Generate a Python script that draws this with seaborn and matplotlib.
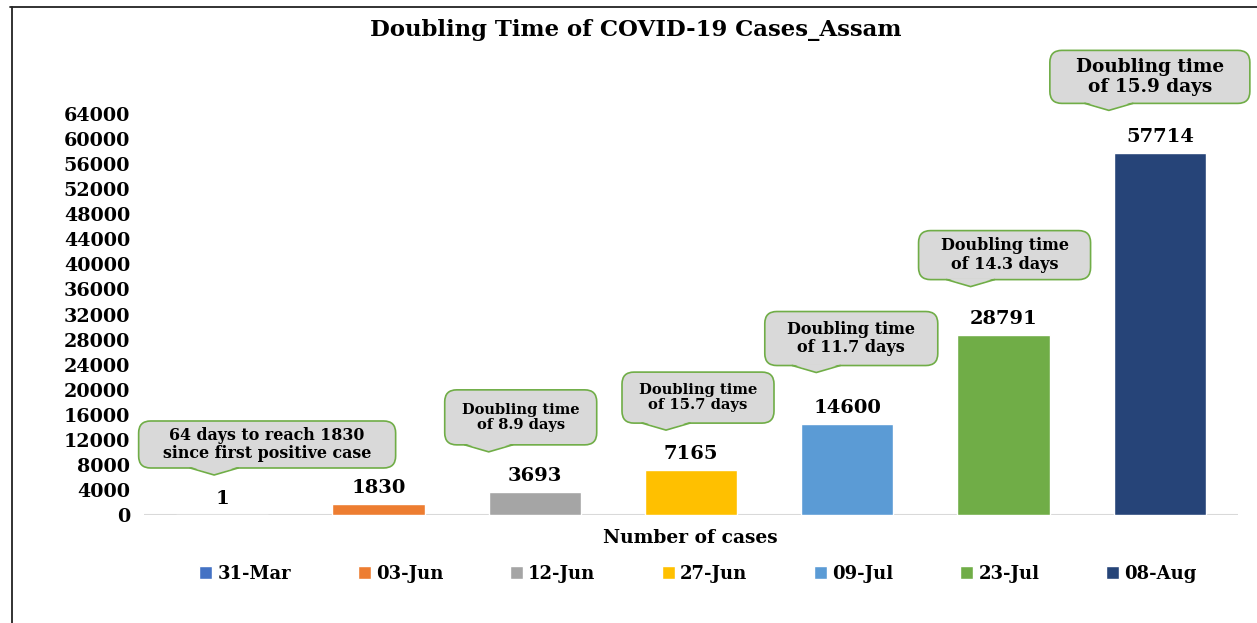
import numpy as np
import pandas as pd
import seaborn as sns
import matplotlib.pyplot as plt
from matplotlib.patches import FancyBboxPatch, Polygon
from matplotlib.lines import Line2D
from matplotlib.transforms import IdentityTransform

# data
dates = ["31-Mar", "03-Jun", "12-Jun", "27-Jun", "09-Jul", "23-Jul", "08-Aug"]
cases = [1, 1830, 3693, 7165, 14600, 28791, 57714]
colors = ["#4472c4", "#ed7d31", "#a5a5a5", "#ffc000", "#5b9bd5", "#70ad47", "#264478"]

callout_bars = [0, 2, 3, 4, 5, 6]
callout_texts = [
    "64 days to reach 1830\nsince first positive case",
    "Doubling time\nof 8.9 days",
    "Doubling time\nof 15.7 days",
    "Doubling time\nof 11.7 days",
    "Doubling time\nof 14.3 days",
    "Doubling time\nof 15.9 days",
]
# layout of callouts in pixels: tip offset from bar top, box size, box offset, font size
tip_dx = [-8, -46, -25, -31, -33, -51]
tip_dy = [40, 40, 40, 51, 48, 43]
box_w = [257, 152, 152, 173, 172, 200]
box_h = [47, 55, 51, 54, 49, 53]
box_dx = [53, 32, 32, 35, 34, 41]
box_fs = [11.4, 10.5, 10.6, 11.5, 11.5, 13.3]

FONT = "DejaVu Serif"

sns.set_style("white")
plt.rcParams["font.family"] = FONT
plt.rcParams["font.weight"] = "bold"
plt.rcParams["text.color"] = "black"
plt.rcParams["ytick.color"] = "black"
plt.rcParams["axes.labelcolor"] = "black"

fig = plt.figure(figsize=(12.57, 6.23), dpi=100)
ax = fig.add_axes([144 / 1257, 1 - 515 / 623, (1238 - 144) / 1257, (515 - 114) / 623])

df = pd.DataFrame({"date": dates, "cases": cases})
sns.barplot(data=df, x="date", y="cases", hue="date", palette=colors,
            width=0.59, legend=True, ax=ax, saturation=1)

ax.set_xlim(-0.5, len(dates) - 0.5)
ax.set_ylim(0, 64000)
ax.set_yticks(np.arange(0, 64001, 4000))
ax.tick_params(axis="y", length=0, labelsize=13.8, pad=10)
for t in ax.get_yticklabels():
    t.set_fontweight("bold")
ax.set_xticks([])
ax.set_ylabel("")
ax.set_xlabel("Number of cases", fontsize=13.4, fontweight="bold")
ax.xaxis.set_label_coords((690 - 144) / (1238 - 144), -14 / 401)
for s in ax.spines.values():
    s.set_visible(False)
ax.axhline(0, color="#d9d9d9", lw=1.5, zorder=0)

for cont in ax.containers:
    ax.bar_label(cont, fmt="%d", padding=5, fontsize=14, fontweight="bold", color="black")

fig.text(636 / 1257, 1 - 30 / 623, "Doubling Time of COVID-19 Cases_Assam",
         ha="center", va="center", fontsize=16.4, fontweight="bold")

handles, labels = ax.get_legend_handles_labels()
ax.legend(handles, labels, ncol=7, loc="center", frameon=False,
          bbox_to_anchor=(698 / 1257, 1 - 574 / 623), bbox_transform=fig.transFigure,
          handlelength=0.7, handleheight=0.7, handletextpad=0.3, columnspacing=3.7,
          prop={"family": FONT, "weight": "bold", "size": 13})

# callouts drawn in pixel space, anchored to bar tops
for k, i in enumerate(callout_bars):
    bx, by = ax.transData.transform((i, cases[i]))
    tx, ty = bx + tip_dx[k], by + tip_dy[k]
    depth = 7
    bottom = ty + depth
    left = tx + box_dx[k] - box_w[k] / 2
    box = FancyBboxPatch((left, bottom), box_w[k], box_h[k],
                         boxstyle="round,pad=0,rounding_size=12",
                         transform=IdentityTransform(), facecolor="#d9d9d9",
                         edgecolor="#70ad47", lw=1.2, zorder=5)
    fig.add_artist(box)
    tri = Polygon([(tx - 24, bottom + 1.5), (tx, ty), (tx + 24, bottom + 1.5)],
                  closed=True, transform=IdentityTransform(), facecolor="#d9d9d9",
                  edgecolor="none", zorder=6)
    fig.add_artist(tri)
    fig.add_artist(Line2D([tx - 24, tx, tx + 24], [bottom, ty, bottom],
                          transform=IdentityTransform(), color="#70ad47", lw=1.2, zorder=7))
    fig.text(left + box_w[k] / 2, bottom + box_h[k] / 2, callout_texts[k],
             transform=IdentityTransform(), ha="center", va="center",
             fontsize=box_fs[k], fontweight="bold", linespacing=1.1, zorder=8)

# frame lines at top and left
fig.add_artist(Line2D([10 / 1257, 1], [1 - 7 / 623, 1 - 7 / 623],
                      transform=fig.transFigure, color="#222222", lw=1.3))
fig.add_artist(Line2D([12 / 1257, 12 / 1257], [0, 1 - 7 / 623],
                      transform=fig.transFigure, color="#222222", lw=1.3))

fig.savefig("out.png", dpi=100)
